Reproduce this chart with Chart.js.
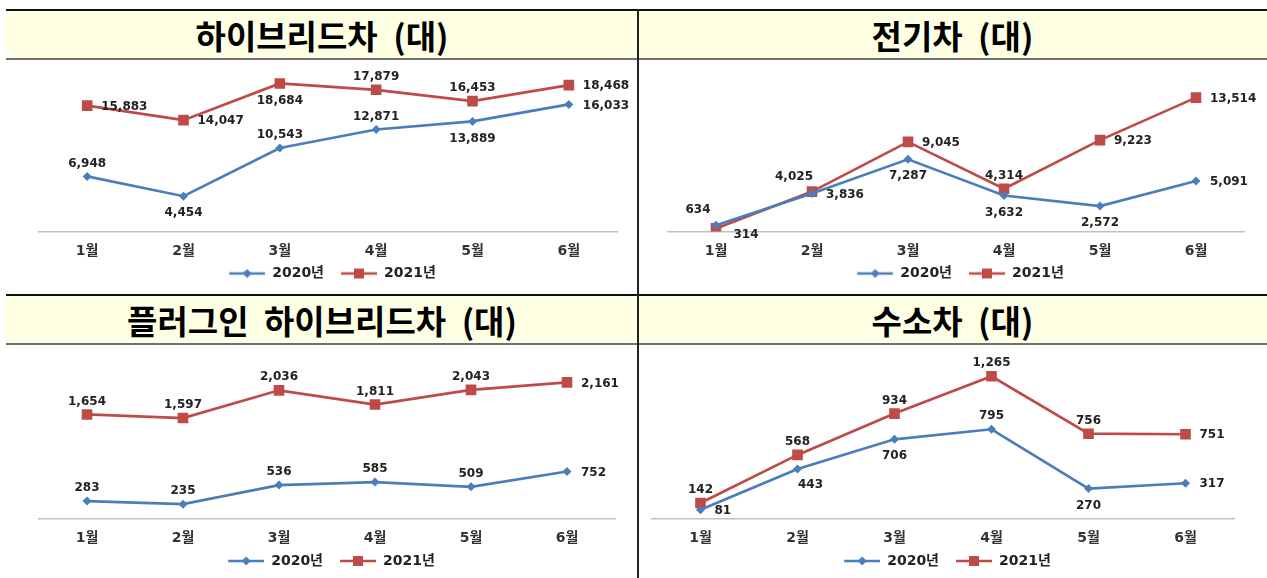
<!DOCTYPE html>
<html>
<head>
<meta charset="utf-8">
<script src="https://cdn.jsdelivr.net/npm/chart.js@4.4.1/dist/chart.umd.min.js"></script>
<style>
    body { margin: 0; width: 1267px; height: 578px; background: #fff; position: relative; overflow: hidden; font-family: "Noto Sans CJK KR", sans-serif; }
    .head { position: absolute; height: 51px; background: #ffffe3; border-top: 2px solid #111; border-bottom: 2px solid #707070; box-sizing: border-box;
            display: flex; align-items: center; justify-content: center; font-weight: 700; font-size: 33px; word-spacing: 8px; color: #000; }
    .vline { position: absolute; left: 637px; top: 9px; width: 2px; height: 569px; background: #222; }
    .box { position: absolute; }
</style>
</head>
<body>
<div class="head" style="left:6px;top:9px;width:632px">하이브리드차 (대)</div>
<div class="head" style="left:638px;top:9px;width:629px">전기차 (대)</div>
<div class="head" style="left:6px;top:294px;width:632px">플러그인 하이브리드차 (대)</div>
<div class="head" style="left:638px;top:294px;width:629px">수소차 (대)</div>

<div class="box" style="left:6px;top:61px;width:631px;height:232px"><canvas id="hybrid"></canvas></div>
<div class="box" style="left:640px;top:61px;width:627px;height:232px"><canvas id="electric"></canvas></div>
<div class="box" style="left:6px;top:349px;width:631px;height:229px"><canvas id="plugin"></canvas></div>
<div class="box" style="left:640px;top:349px;width:627px;height:229px"><canvas id="hydrogen"></canvas></div>
<div class="vline"></div>

<script>
const months = ['1월', '2월', '3월', '4월', '5월', '6월'];
const seriesNames = ['2020년', '2021년'];

const hybrid2020 = [6948, 4454, 10543, 12871, 13889, 16033];
const hybrid2021 = [15883, 14047, 18684, 17879, 16453, 18468];
const electric2020 = [634, 3836, 7287, 3632, 2572, 5091];
const electric2021 = [314, 4025, 9045, 4314, 9223, 13514];
const plugin2020 = [283, 235, 536, 585, 509, 752];
const plugin2021 = [1654, 1597, 2036, 1811, 2043, 2161];
const hydrogen2020 = [81, 443, 706, 795, 270, 317];
const hydrogen2021 = [142, 568, 934, 1265, 756, 751];

// where each value label sits relative to its point
const OFFSETS = {
    a:  [0, -13, 'center'],
    b:  [0, 17, 'center'],
    r:  [14, 1, 'left'],
    al: [-18, -15, 'center'],
    br: [13, 16, 'center'],
    rb: [30, 6, 'center']
};

const BLUE = '#4a7ebb';
const RED = '#be4b48';
const LABEL_FONT = '"DejaVu Sans", "Noto Sans CJK KR"';

// legend marker: a short line with the series marker, with some blank space in front
function legendIcon(color, square) {
    const c = document.createElement('canvas');
    c.width = 45; c.height = 12;
    const g = c.getContext('2d');
    g.strokeStyle = color; g.lineWidth = 2.5;
    g.beginPath(); g.moveTo(9, 6); g.lineTo(45, 6); g.stroke();
    g.fillStyle = color;
    if (square) {
        g.fillRect(22, 1, 10, 10);
    } else {
        g.beginPath(); g.moveTo(27, 1.5); g.lineTo(31.5, 6); g.lineTo(27, 10.5); g.lineTo(22.5, 6); g.closePath(); g.fill();
    }
    return c;
}
const icon2020 = legendIcon(BLUE, false);
const icon2021 = legendIcon(RED, true);

const valueLabels = {
    id: 'valueLabels',
    afterDatasetsDraw(chart, args, opts) {
        const ctx = chart.ctx;
        ctx.save();
        ctx.font = 'bold 12px "DejaVu Sans"';
        ctx.fillStyle = '#222';
        ctx.textBaseline = 'middle';
        chart.data.datasets.forEach((ds, i) => {
            chart.getDatasetMeta(i).data.forEach((pt, j) => {
                const [dx, dy, align] = OFFSETS[opts.places[i][j]];
                ctx.textAlign = align;
                ctx.fillText(ds.data[j].toLocaleString('en-US'), pt.x + dx, pt.y + dy);
            });
        });
        ctx.restore();
    }
};

function makeChart(id, d2020, d2021, yMax, places, padLeft, padRight, padBottom) {
    return new Chart(document.getElementById(id), {
        type: 'line',
        data: {
            labels: months,
            datasets: [{
                label: seriesNames[0],
                data: d2020,
                borderColor: BLUE,
                backgroundColor: BLUE,
                borderWidth: 2.7,
                pointStyle: 'rectRot',
                pointRadius: 4.5,
                pointBorderWidth: 0,
                tension: 0
            }, {
                label: seriesNames[1],
                data: d2021,
                borderColor: RED,
                backgroundColor: RED,
                borderWidth: 2.7,
                pointStyle: 'rect',
                pointRadius: 7.5,
                pointBorderWidth: 0,
                tension: 0
            }]
        },
        options: {
            responsive: true,
            maintainAspectRatio: false,
            animation: false,
            layout: { padding: { top: 12, bottom: padBottom, left: padLeft, right: padRight } },
            scales: {
                x: {
                    offset: true,
                    grid: { display: false, drawTicks: false },
                    border: { display: true, color: '#c0c0c0', width: 1.5 },
                    ticks: { padding: 11, color: '#333', font: { family: LABEL_FONT, weight: 'bold', size: 14 } },
                    afterFit: (scale) => { scale.height = 27; }
                },
                y: { display: false, min: 0, max: yMax }
            },
            plugins: {
                legend: {
                    position: 'bottom',
                    labels: {
                        usePointStyle: true,
                        pointStyleWidth: 45,
                        boxHeight: 12,
                        padding: 8,
                        color: '#222',
                        font: { family: LABEL_FONT, weight: 'bold', size: 14 },
                        generateLabels: (chart) => chart.data.datasets.map((ds, i) => ({
                            text: ds.label,
                            pointStyle: i === 0 ? icon2020 : icon2021,
                            datasetIndex: i,
                            fillStyle: ds.borderColor,
                            strokeStyle: ds.borderColor,
                            lineWidth: 0,
                            fontColor: '#222'
                        }))
                    }
                },
                tooltip: { enabled: false },
                valueLabels: { places: places }
            }
        },
        plugins: [valueLabels]
    });
}

makeChart('hybrid', hybrid2020, hybrid2021, 20000,
    [['a', 'b', 'a', 'a', 'b', 'r'], ['r', 'r', 'b', 'a', 'a', 'r']], 33, 20, 2.5);
makeChart('electric', electric2020, electric2021, 16000,
    [['al', 'r', 'b', 'b', 'b', 'r'], ['rb', 'al', 'r', 'a', 'r', 'r']], 28, 23, 2.5);
makeChart('plugin', plugin2020, plugin2021, 2500,
    [['a', 'a', 'a', 'a', 'a', 'r'], ['a', 'a', 'a', 'a', 'a', 'r']], 33, 22, 0);
makeChart('hydrogen', hydrogen2020, hydrogen2021, 1400,
    [['r', 'br', 'b', 'a', 'b', 'r'], ['a', 'a', 'a', 'a', 'a', 'r']], 12, 33, 0);
</script>
</body>
</html>
